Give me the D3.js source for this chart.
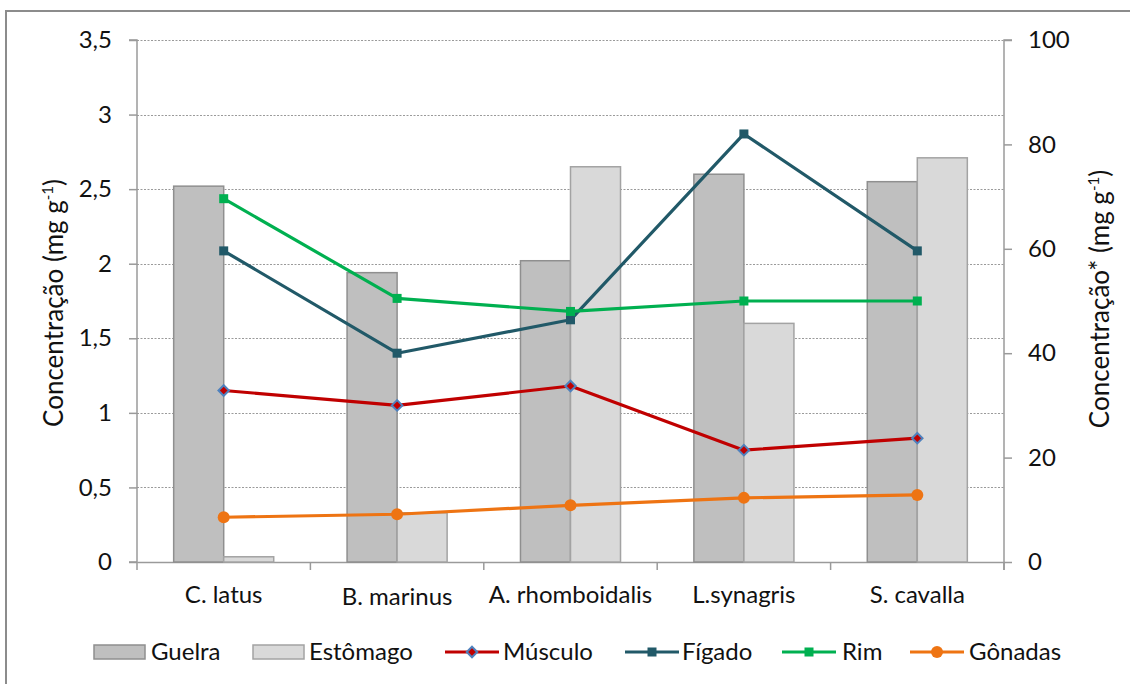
<!DOCTYPE html>
<html>
<head>
<meta charset="utf-8">
<script src="https://cdn.jsdelivr.net/npm/d3@7"></script>
<style>
  html, body { margin: 0; padding: 0; background: #ffffff; }
  svg { display: block; font-family: Lato, "Open Sans", sans-serif; }
</style>
</head>
<body>
<svg id="chart" width="1130" height="684"></svg>
<script>
// Species sampled
const categories = ["C. latus", "B. marinus", "A. rhomboidalis", "L.synagris", "S. cavalla"];

// Bars, left axis (mg g-1)
const guelra   = [2.52, 1.94, 2.02, 2.60, 2.55];
const estomago = [0.035, 0.33, 2.65, 1.60, 2.71];

// Lines, left axis (mg g-1)
const musculo = [1.15, 1.05, 1.18, 0.75, 0.83];
const gonadas = [0.30, 0.32, 0.38, 0.43, 0.45];

// Lines, right axis (mg g-1, marked *)
const figado = [59.6, 40, 46.4, 82, 59.6];
const rim    = [69.6, 50.5, 48, 50, 50];

// Axis ticks
const leftTicks  = [0, 0.5, 1, 1.5, 2, 2.5, 3, 3.5];
const rightTicks = [0, 20, 40, 60, 80, 100];

const svg = d3.select("#chart");
const plot = { left: 137, right: 1004, top: 40, bottom: 562 };
const fmt = d => String(d).replace(".", ",");
const FONT = 24;

// Outer frame
svg.append("rect")
  .attr("x", 6).attr("y", 11).attr("width", 1140).attr("height", 700)
  .attr("fill", "#ffffff").attr("stroke", "#8c8c8c").attr("stroke-width", 2);

const x = d3.scaleBand().domain(categories).range([plot.left, plot.right]);
const barGroup = x.bandwidth() * 0.577;
const x1 = d3.scaleBand().domain(["Guelra", "Estômago"])
  .range([(x.bandwidth() - barGroup) / 2, (x.bandwidth() + barGroup) / 2]);
const yL = d3.scaleLinear().domain([0, 3.5]).range([plot.bottom, plot.top]);
const yR = d3.scaleLinear().domain([0, 100]).range([plot.bottom, plot.top]);

// Dotted gridlines
svg.append("g").selectAll("line")
  .data(leftTicks.filter(t => t > 0))
  .join("line")
  .attr("x1", plot.left).attr("x2", plot.right)
  .attr("y1", d => Math.round(yL(d)) + 0.5).attr("y2", d => Math.round(yL(d)) + 0.5)
  .attr("stroke", "#9a9a9a").attr("stroke-width", 1).attr("stroke-dasharray", "2,1.5");

// Axes
const axisColor = "#9a9a9a";
const leftAxis = svg.append("g").attr("transform", `translate(${plot.left},0)`)
  .call(d3.axisLeft(yL).tickValues(leftTicks).tickFormat(fmt).tickSize(8).tickPadding(17));
const rightAxis = svg.append("g").attr("transform", `translate(${plot.right},0)`)
  .call(d3.axisRight(yR).tickValues(rightTicks).tickSize(8).tickPadding(16));
const bottomAxis = svg.append("g").attr("transform", `translate(0,${plot.bottom})`)
  .call(d3.axisBottom(x).tickSize(0).tickFormat(""));
bottomAxis.selectAll(".tick").remove();
bottomAxis.append("g").selectAll("line")
  .data(d3.range(categories.length + 1))
  .join("line")
  .attr("x1", i => plot.left + i * x.bandwidth()).attr("x2", i => plot.left + i * x.bandwidth())
  .attr("y1", 0).attr("y2", 8)
  .attr("stroke", axisColor).attr("stroke-width", 1.5);

[leftAxis, rightAxis, bottomAxis].forEach(g => {
  g.select(".domain").attr("stroke", axisColor).attr("stroke-width", 1.5);
  g.selectAll(".tick line").attr("stroke", axisColor).attr("stroke-width", 1.5);
  g.selectAll(".tick text").attr("fill", "#111").style("font-size", FONT + "px").style("font-family", "Lato, sans-serif");
});
leftAxis.select(".domain").attr("d", `M-8,${plot.top}H0V${plot.bottom}H-8`);
rightAxis.select(".domain").attr("d", `M8,${plot.top}H0V${plot.bottom + 8}`);

// Category labels
svg.append("g").selectAll("text")
  .data(categories)
  .join("text")
  .attr("x", d => x(d) + x.bandwidth() / 2)
  .attr("y", (d, i) => i === 1 ? 605 : 603)
  .attr("text-anchor", "middle")
  .attr("fill", "#111")
  .style("font-size", FONT + "px")
  .text(d => d);

// Bars
const bars = svg.append("g");
const barSeries = [
  { name: "Guelra", values: guelra, fill: "#bfbfbf", stroke: "#8f8f8f" },
  { name: "Estômago", values: estomago, fill: "#d9d9d9", stroke: "#a3a3a3" }
];
barSeries.forEach(s => {
  bars.append("g").selectAll("rect")
    .data(s.values.map((v, i) => ({ cat: categories[i], v })))
    .join("rect")
    .attr("x", d => x(d.cat) + x1(s.name))
    .attr("y", d => yL(d.v))
    .attr("width", x1.bandwidth())
    .attr("height", d => plot.bottom - yL(d.v))
    .attr("fill", s.fill).attr("stroke", s.stroke).attr("stroke-width", 1.5);
});

// Line series
const cx = c => x(c) + x.bandwidth() / 2;
const lineSeries = [
  { name: "Músculo", values: musculo, scale: yL, color: "#c00000", marker: "diamond" },
  { name: "Fígado", values: figado, scale: yR, color: "#215968", marker: "square" },
  { name: "Rim", values: rim, scale: yR, color: "#00b050", marker: "square" },
  { name: "Gônadas", values: gonadas, scale: yL, color: "#ee7413", marker: "circle" }
];

function drawMarker(g, kind, color, px, py) {
  if (kind === "diamond") {
    g.append("path")
      .attr("d", d3.symbol(d3.symbolDiamond2, 70)())
      .attr("transform", `translate(${px},${py})`)
      .attr("fill", color).attr("stroke", "#4f81bd").attr("stroke-width", 2);
  } else if (kind === "square") {
    g.append("rect")
      .attr("x", px - 4.5).attr("y", py - 4.5).attr("width", 9).attr("height", 9)
      .attr("fill", color);
  } else {
    g.append("circle").attr("cx", px).attr("cy", py).attr("r", 6).attr("fill", color);
  }
}

const linesG = svg.append("g");
lineSeries.forEach(s => {
  const pts = s.values.map((v, i) => [cx(categories[i]), s.scale(v)]);
  linesG.append("path")
    .attr("d", d3.line()(pts))
    .attr("fill", "none").attr("stroke", s.color).attr("stroke-width", 3.2)
    .attr("stroke-linejoin", "round");
  const mg = linesG.append("g");
  pts.forEach(p => drawMarker(mg, s.marker, s.color, p[0], p[1]));
});

// Axis titles
function axisTitle(tx, ty, main) {
  const t = svg.append("text")
    .attr("transform", `translate(${tx},${ty}) rotate(-90)`)
    .attr("text-anchor", "middle")
    .attr("fill", "#111")
    .style("font-size", "26px");
  t.append("tspan").text(main + " (mg g");
  t.append("tspan").attr("dy", -10).style("font-size", "15px").text("-1");
  t.append("tspan").attr("dy", 10).text(")");
}
axisTitle(63, 303, "Concentração");
axisTitle(1109, 299, "Concentração*");

// Legend
const legend = svg.append("g");
const ly = 652;
const swatches = [
  { s: barSeries[0], x: 94, tx: 151 },
  { s: barSeries[1], x: 253, tx: 309 }
];
swatches.forEach(o => {
  legend.append("rect").attr("x", o.x).attr("y", ly - 7).attr("width", 51).attr("height", 14)
    .attr("fill", o.s.fill).attr("stroke", o.s.stroke).attr("stroke-width", 1.5);
  legend.append("text").attr("x", o.tx).attr("y", ly + 8).attr("fill", "#111")
    .style("font-size", FONT + "px").text(o.s.name);
});
const lineKeys = [
  { s: lineSeries[0], x: 445, tx: 503 },
  { s: lineSeries[1], x: 625, tx: 682 },
  { s: lineSeries[2], x: 782, tx: 842 },
  { s: lineSeries[3], x: 910, tx: 969 }
];
lineKeys.forEach(o => {
  legend.append("line").attr("x1", o.x).attr("x2", o.x + 54).attr("y1", ly).attr("y2", ly)
    .attr("stroke", o.s.color).attr("stroke-width", 3.2);
  drawMarker(legend, o.s.marker, o.s.color, o.x + 27, ly);
  legend.append("text").attr("x", o.tx).attr("y", ly + 8).attr("fill", "#111")
    .style("font-size", FONT + "px").text(o.s.name);
});
</script>
</body>
</html>
